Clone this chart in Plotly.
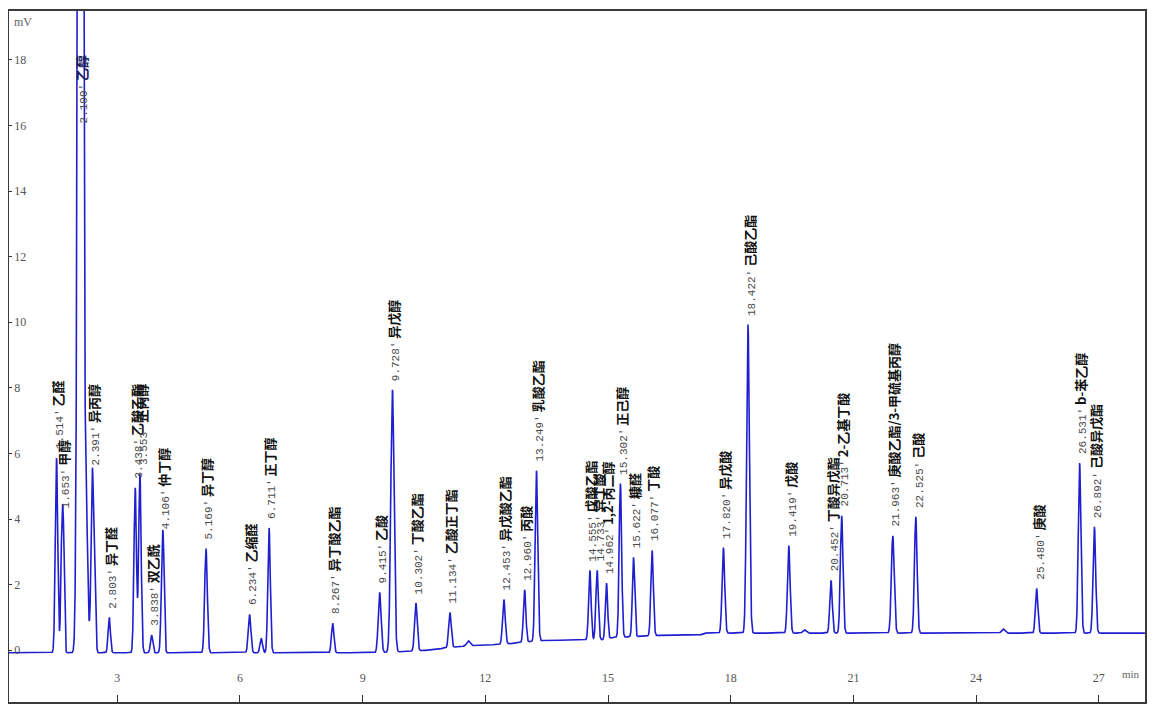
import numpy as np
import plotly.graph_objects as go

# ---- data ----
# labelled peaks: retention time (min), height above baseline (mV), compound
peak_rt = [1.514, 1.653, 2.100, 2.391, 2.803, 3.438, 3.553, 3.838, 4.106, 5.169,
           6.234, 6.711, 8.267, 9.415, 9.728, 10.302, 11.134, 12.453, 12.960, 13.249,
           14.555, 14.733, 14.962, 15.302, 15.622, 16.077, 17.820, 18.422, 19.419,
           20.452, 20.713, 21.963, 22.525, 25.480, 26.531, 26.892]
peak_h = [5.94, 4.12, 80.0, 5.45, 1.08, 5.03, 5.45, 0.54, 3.48, 3.18,
          1.17, 3.81, 0.90, 1.84, 8.00, 1.46, 1.07, 1.36, 1.60, 5.20,
          2.12, 2.12, 1.71, 4.69, 2.42, 2.60, 2.61, 9.41, 2.67,
          1.61, 3.58, 2.97, 3.55, 1.36, 5.19, 3.24]
peak_w = [0.030, 0.030, 0.048, 0.030, 0.028, 0.030, 0.030, 0.028, 0.030, 0.032,
          0.032, 0.030, 0.030, 0.035, 0.040, 0.032, 0.032, 0.032, 0.030, 0.032,
          0.030, 0.030, 0.028, 0.030, 0.028, 0.030, 0.032, 0.035, 0.032,
          0.030, 0.032, 0.035, 0.032, 0.030, 0.032, 0.032]
peak_name = ["乙醛", "甲醇", "乙醇", "异丙醇", "异丁醛", "乙酸乙酯", "正丙醇", "双乙酰", "仲丁醇", "异丁醇",
             "乙缩醛", "正丁醇", "异丁酸乙酯", "乙酸", "异戊醇", "丁酸乙酯", "乙酸正丁酯", "异戊酸乙酯", "丙酸", "乳酸乙酯",
             "戊酸乙酯", "异丁酸", "1,2-丙二醇", "正己醇", "糠醛", "丁酸", "异戊酸", "己酸乙酯", "戊酸",
             "丁酸异戊酯", "2-乙基丁酸", "庚酸乙酯/3-甲硫基丙醇", "己酸", "庚酸", "b-苯乙醇", "己酸异戊酯"]

# unlabelled minor peaks / shoulders
minor_rt = [1.690, 2.240, 2.300, 2.450, 4.140, 6.520, 11.580, 19.800, 24.660]
minor_h = [1.60, 4.00, 0.60, 1.30, 0.90, 0.44, 0.16, 0.10, 0.13]
minor_w = [0.020, 0.030, 0.050, 0.025, 0.020, 0.030, 0.040, 0.040, 0.040]

# baseline drift (min, mV)
base_t = [0.35, 9.30, 9.90, 10.60, 11.00, 11.30, 11.70, 12.30, 12.60, 13.45, 14.90, 15.10, 16.20, 17.25, 17.35, 28.13]
base_v = [-0.08, -0.08, -0.05, 0.00, 0.06, 0.10, 0.14, 0.17, 0.20, 0.30, 0.32, 0.38, 0.45, 0.46, 0.52, 0.52]

# axis ticks
x_ticks = [3, 6, 9, 12, 15, 18, 21, 24, 27]
y_ticks = [0, 2, 4, 6, 8, 10, 12, 14, 16, 18]

# ---- build the trace from the peak table ----
t = np.arange(0.35, 28.13, 0.002)
sig = np.interp(t, base_t, base_v)
for rt, h, w in zip(peak_rt + minor_rt, peak_h + minor_h, peak_w + minor_w):
    sig = sig + h * np.exp(-0.5 * ((t - rt) / w) ** 2)

fig = go.Figure()
fig.add_trace(go.Scatter(x=t, y=sig, mode="lines",
                         line=dict(color="#1f1fd0", width=1.6),
                         hoverinfo="skip", showlegend=False))

annotations = []
for rt, h, name in zip(peak_rt, peak_h, peak_name):
    apex = float(np.interp(rt, base_t, base_v)) + h
    txt = (f"<span style='font-family:Liberation Mono;font-size:11px;color:#4a4a4a'>{rt:.3f}'</span>"
           f" <b>{name}</b>")
    if apex > 19:
        annotations.append(dict(x=rt, y=16.0, text=txt, textangle=-90, showarrow=False,
                                xanchor="center", yanchor="bottom", xshift=1,
                                font=dict(family="Noto Sans CJK SC", size=13, color="#1a1a5a")))
    else:
        annotations.append(dict(x=rt, y=apex, text=txt, textangle=-90, showarrow=False,
                                xanchor="center", yanchor="bottom", yshift=7, xshift=1,
                                font=dict(family="Noto Sans CJK SC", size=13, color="#111111")))

annotations.append(dict(x=0.003, y=0.997, xref="paper", yref="paper", text="mV", showarrow=False,
                        xanchor="left", yanchor="top",
                        font=dict(family="Liberation Serif", size=12, color="#666666")))
annotations.append(dict(x=0.997, y=0.04, xref="paper", yref="paper", text="min", showarrow=False,
                        xanchor="right", yanchor="middle",
                        font=dict(family="Liberation Serif", size=11, color="#666666")))

fig.update_layout(
    width=1147, height=700, autosize=False,
    margin=dict(l=1, r=10, t=1, b=6),
    paper_bgcolor="white", plot_bgcolor="white",
    annotations=annotations,
    xaxis=dict(range=[0.352, 28.13], tickvals=x_ticks, ticks="inside", ticklen=7,
               tickcolor="#333333", tickwidth=1.2,
               ticklabelposition="inside", ticklabelstandoff=10,
               tickfont=dict(family="Liberation Serif", size=12, color="#555555"),
               showgrid=False, zeroline=False, showline=True, mirror=True,
               linecolor="#3a3a3a", linewidth=1.5, fixedrange=True),
    yaxis=dict(range=[-1.58, 19.49], tickvals=y_ticks, ticks="inside", ticklen=3,
               tickcolor="#333333", tickwidth=1.2,
               ticklabelposition="inside", ticklabelstandoff=2,
               tickfont=dict(family="Liberation Serif", size=12, color="#555555"),
               showgrid=False, zeroline=False, showline=True, mirror=True,
               linecolor="#3a3a3a", linewidth=1.5, fixedrange=True),
)

fig.write_html("out.html")
